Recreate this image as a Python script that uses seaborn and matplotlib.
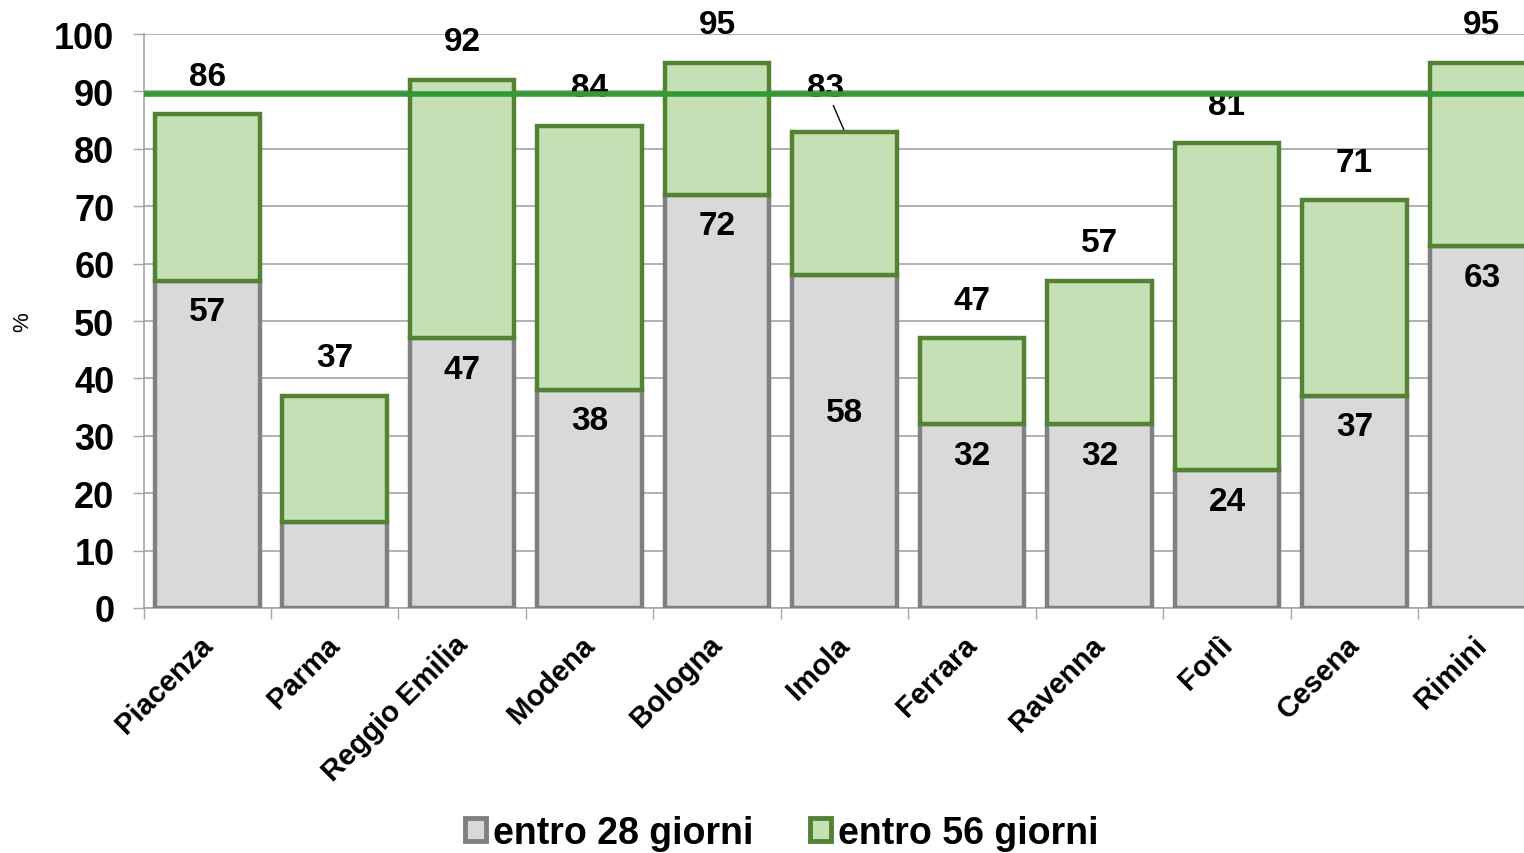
import pandas as pd
import seaborn as sns
import matplotlib.pyplot as plt
import matplotlib.transforms as mtransforms
from matplotlib.patches import Patch

citta = ['Piacenza', 'Parma', 'Reggio Emilia', 'Modena', 'Bologna', 'Imola',
         'Ferrara', 'Ravenna', 'Forlì', 'Cesena', 'Rimini']
entro_28 = [57, 15, 47, 38, 72, 58, 32, 32, 24, 37, 63]
entro_56 = [86, 37, 92, 84, 95, 83, 47, 57, 81, 71, 95]
obiettivo = 89.5

df = pd.DataFrame({'citta': citta, 'g28': entro_28, 'g56': entro_56})
df['diff'] = df['g56'] - df['g28']

sns.set_style('white')
plt.rcParams['font.family'] = ['Liberation Sans', 'DejaVu Sans']
plt.rcParams['font.weight'] = 'bold'
plt.rcParams['text.color'] = 'black'
plt.rcParams['xtick.labelcolor'] = 'black'
plt.rcParams['ytick.labelcolor'] = 'black'
plt.rcParams['axes.labelcolor'] = 'black'

fig = plt.figure(figsize=(15.24, 8.54), dpi=100)
ax = fig.add_axes([0.0942, 0.2869, 0.92, 0.6721])

grigio, grigio_bordo = '#d9d9d9', '#808080'
verde, verde_bordo = '#c5e0b4', '#548235'

# barre grigie (entro 28 giorni)
sns.barplot(data=df, x='citta', y='g28', color=grigio, edgecolor=grigio_bordo,
            linewidth=3.2, width=0.82, saturation=1, ax=ax, zorder=3)
# barre verdi sopra (differenza fino a 56 giorni)
sns.barplot(data=df, x='citta', y='diff', color=verde, edgecolor=verde_bordo,
            linewidth=3.2, width=0.82, saturation=1, ax=ax, zorder=3,
            bottom=df['g28'].values)

ax.axhline(obiettivo, color='#339933', lw=4, zorder=4)

# etichette
fs = 24
for i, (a, b) in enumerate(zip(entro_28, entro_56)):
    if i == 5:
        ax.annotate(str(b), xy=(i, b), xytext=(-19, 44), textcoords='offset pixels',
                    ha='center', va='center', fontsize=fs, fontweight='bold', zorder=2,
                    arrowprops=dict(arrowstyle='-', color='black', lw=1, patchA=None,
                                    shrinkA=14, shrinkB=0))
        ax.annotate(str(a), xy=(i, a), xytext=(0, -137), textcoords='offset pixels',
                    ha='center', va='center', fontsize=fs, fontweight='bold', zorder=5)
    else:
        ax.annotate(str(b), xy=(i, b), xytext=(0, 38), textcoords='offset pixels',
                    ha='center', va='center', fontsize=fs, fontweight='bold', zorder=2)
        if a >= 20:
            ax.annotate(str(a), xy=(i, a), xytext=(0, -31), textcoords='offset pixels',
                        ha='center', va='center', fontsize=fs, fontweight='bold', zorder=5)

ax.set_ylim(0, 100)
ax.set_xlim(-0.5, 10.5)
ax.set_yticks(range(0, 101, 10))
ax.yaxis.grid(True, color='#a6a6a6', lw=1.2, zorder=0)
ax.set_axisbelow(True)
ax.tick_params(axis='y', labelsize=26, length=8, width=1, color='#a6a6a6',
               direction='out', pad=13, left=True)
ax.set_xticks(range(len(citta)))
ax.set_xticks([i - 0.5 for i in range(len(citta) + 1)], minor=True)
ax.tick_params(axis='x', which='major', length=0, pad=16)
ax.tick_params(axis='x', which='minor', length=8, width=1, color='#a6a6a6',
               direction='out', bottom=True)
ax.set_xticklabels(citta, rotation=45, ha='right', rotation_mode='anchor',
                   fontsize=21, fontweight='bold')
sposta = mtransforms.ScaledTranslation(-9 / 100, 0, fig.dpi_scale_trans)
for t in ax.get_xticklabels():
    t.set_transform(t.get_transform() + sposta)
for t in ax.get_yticklabels():
    t.set_fontweight('bold')

ax.set_xlabel('')
ax.set_ylabel('%', fontsize=16, fontweight='normal')
ax.yaxis.set_label_coords(-0.079, 0.5)
for s in ['top', 'right']:
    ax.spines[s].set_visible(False)
for s in ['left', 'bottom']:
    ax.spines[s].set_color('#a6a6a6')
    ax.spines[s].set_linewidth(1.2)

handles = [Patch(facecolor=grigio, edgecolor=grigio_bordo, lw=3.5, label='entro 28 giorni'),
           Patch(facecolor=verde, edgecolor=verde_bordo, lw=3.5, label='entro 56 giorni')]
fig.legend(handles=handles, loc='center', bbox_to_anchor=(782 / 1524, 1 - 834 / 854),
           ncol=2, frameon=False, prop={'size': 27, 'weight': 'bold'},
           handlelength=0.55, handleheight=0.55, handletextpad=0.2, columnspacing=1.5)

fig.savefig('out.png', dpi=100)
